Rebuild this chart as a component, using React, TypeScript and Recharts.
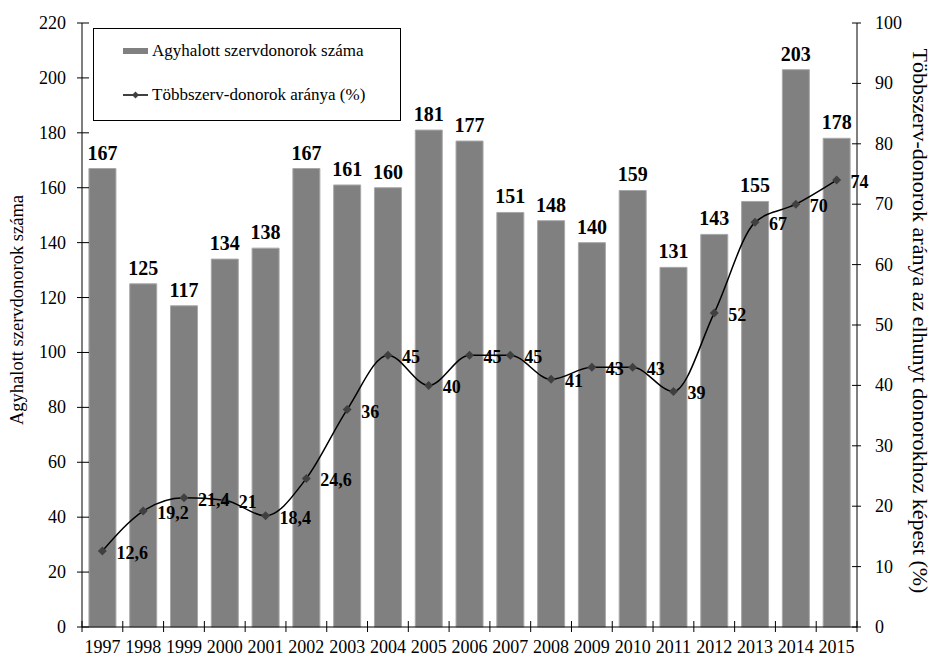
import {
  Bar,
  ComposedChart,
  LabelList,
  Legend,
  Line,
  XAxis,
  YAxis,
} from "recharts";

const years = [
  "1997", "1998", "1999", "2000", "2001", "2002", "2003", "2004", "2005", "2006",
  "2007", "2008", "2009", "2010", "2011", "2012", "2013", "2014", "2015",
];
const donors = [
  167, 125, 117, 134, 138, 167, 161, 160, 181, 177, 151, 148, 140, 159, 131, 143,
  155, 203, 178,
];
const multiOrganShare = [
  12.6, 19.2, 21.4, 21, 18.4, 24.6, 36, 45, 40, 45, 45, 41, 43, 43, 39, 52, 67,
  70, 74,
];
const leftTicks = [0, 20, 40, 60, 80, 100, 120, 140, 160, 180, 200, 220];
const rightTicks = [0, 10, 20, 30, 40, 50, 60, 70, 80, 90, 100];

const data = years.map((year, i) => ({
  year,
  donors: donors[i],
  share: multiOrganShare[i],
}));

const FONT = "Liberation Serif";
const BAR_FILL = "#808080";
const MARKER = "#404040";

function LeftTick({ x, y, payload }: any) {
  return (
    <g>
      <line x1={x - 5} x2={x + 7} y1={y} y2={y} stroke="#000" />
      <text x={x - 16} y={y} dy={6} textAnchor="end" fontSize={18} fontFamily={FONT} fill="#000">
        {payload.value}
      </text>
    </g>
  );
}

function RightTick({ x, y, payload }: any) {
  return (
    <g>
      <line x1={x - 5} x2={x + 4} y1={y} y2={y} stroke="#000" />
      <text x={x + 18} y={y} dy={6} textAnchor="start" fontSize={18} fontFamily={FONT} fill="#000">
        {payload.value}
      </text>
    </g>
  );
}

function YearTick({ x, y, payload, index, visibleTicksCount }: any) {
  const half = payload.offset ?? 20.4;
  const last = index === visibleTicksCount - 1;
  return (
    <g>
      <line x1={x - half} x2={x - half} y1={y - 6} y2={y + 5} stroke="#000" />
      {last && <line x1={x + half} x2={x + half} y1={y - 6} y2={y + 5} stroke="#000" />}
      <text x={x} y={y} dy={26} textAnchor="middle" fontSize={18} fontFamily={FONT} fill="#000">
        {payload.value}
      </text>
    </g>
  );
}

function Diamond({ cx, cy }: any) {
  if (cx == null || cy == null) return null;
  const r = 4.5;
  return (
    <polygon
      points={`${cx},${cy - r} ${cx + r},${cy} ${cx},${cy + r} ${cx - r},${cy}`}
      fill={MARKER}
    />
  );
}

function ShareLabel({ x, y, value }: any) {
  return (
    <text x={x + 14} y={y} dy={8} fontSize={18} fontWeight="bold" fontFamily={FONT} fill="#000">
      {String(value).replace(".", ",")}
    </text>
  );
}

function BarLabel({ x, y, width, value }: any) {
  return (
    <text x={x + width / 2} y={y} dy={-9} textAnchor="middle" fontSize={20} fontWeight="bold" fontFamily={FONT} fill="#000">
      {value}
    </text>
  );
}

function LegendBox() {
  return (
    <div
      style={{
        border: "1px solid #000",
        background: "#fff",
        width: 306,
        height: 91,
        fontFamily: FONT,
        fontSize: 17,
        position: "relative",
      }}
    >
      <div style={{ position: "absolute", left: 29, top: 12, display: "flex", alignItems: "center" }}>
        <span style={{ display: "inline-block", width: 25, height: 6, background: BAR_FILL, marginRight: 4 }} />
        Agyhalott szervdonorok száma
      </div>
      <div style={{ position: "absolute", left: 29, top: 56, display: "flex", alignItems: "center" }}>
        <svg width={25} height={10} style={{ marginRight: 4 }}>
          <line x1={0} x2={25} y1={5} y2={5} stroke="#000" strokeWidth={1.5} />
          <polygon points="12.5,1.5 16,5 12.5,8.5 9,5" fill={MARKER} />
        </svg>
        Többszerv-donorok aránya (%)
      </div>
    </div>
  );
}

export default function App() {
  return (
    <div style={{ position: "absolute", left: 0, top: 0, background: "#fff", fontFamily: FONT }}>
      <ComposedChart
        width={933}
        height={656}
        data={data}
        margin={{ top: 23, right: 0, bottom: 0, left: 0 }}
        barCategoryGap="17%"
      >
        <XAxis
          dataKey="year"
          height={29}
          tickSize={0}
          tickMargin={0}
          tickLine={false}
          stroke="#000"
          interval={0}
          tick={<YearTick />}
        />
        <YAxis
          yAxisId="left"
          width={82}
          domain={[0, 220]}
          ticks={leftTicks}
          interval={0}
          tickSize={0}
          tickMargin={0}
          tickLine={false}
          stroke="#000"
          tick={<LeftTick />}
          label={{
            content: ({ viewBox }: any) => (
              <text
                x={17}
                y={viewBox.y + viewBox.height / 2 - 15}
                transform={`rotate(-90, 17, ${viewBox.y + viewBox.height / 2 - 15})`}
                textAnchor="middle"
                dominantBaseline="central"
                fontSize={18.5}
                fontFamily={FONT}
                fill="#000"
              >
                Agyhalott szervdonorok száma
              </text>
            ),
          }}
        />
        <YAxis
          yAxisId="right"
          orientation="right"
          width={76}
          domain={[0, 100]}
          ticks={rightTicks}
          interval={0}
          tickSize={0}
          tickMargin={0}
          tickLine={false}
          stroke="#000"
          tick={<RightTick />}
          label={{
            content: ({ viewBox }: any) => (
              <text
                x={920}
                y={viewBox.y + viewBox.height / 2 - 4}
                transform={`rotate(90, 920, ${viewBox.y + viewBox.height / 2 - 4})`}
                textAnchor="middle"
                dominantBaseline="central"
                fontSize={22}
                fontFamily={FONT}
                fill="#000"
              >
                Többszerv-donorok aránya az elhunyt donorokhoz képest (%)
              </text>
            ),
          }}
        />
        <Legend
          layout="horizontal"
          verticalAlign="middle"
          align="center"
          wrapperStyle={{ left: 93, top: 28, width: 308, height: 93 }}
          content={() => <LegendBox />}
        />
        <Bar
          yAxisId="left"
          dataKey="donors"
          fill={BAR_FILL}
          stroke="#a8a8a8"
          strokeWidth={1}
          isAnimationActive={false}
        >
          <LabelList dataKey="donors" content={<BarLabel />} />
        </Bar>
        <Line
          yAxisId="right"
          dataKey="share"
          type="monotone"
          stroke="#000"
          strokeWidth={1.5}
          dot={<Diamond />}
          activeDot={false}
          isAnimationActive={false}
        >
          <LabelList dataKey="share" content={<ShareLabel />} />
        </Line>
      </ComposedChart>
    </div>
  );
}
